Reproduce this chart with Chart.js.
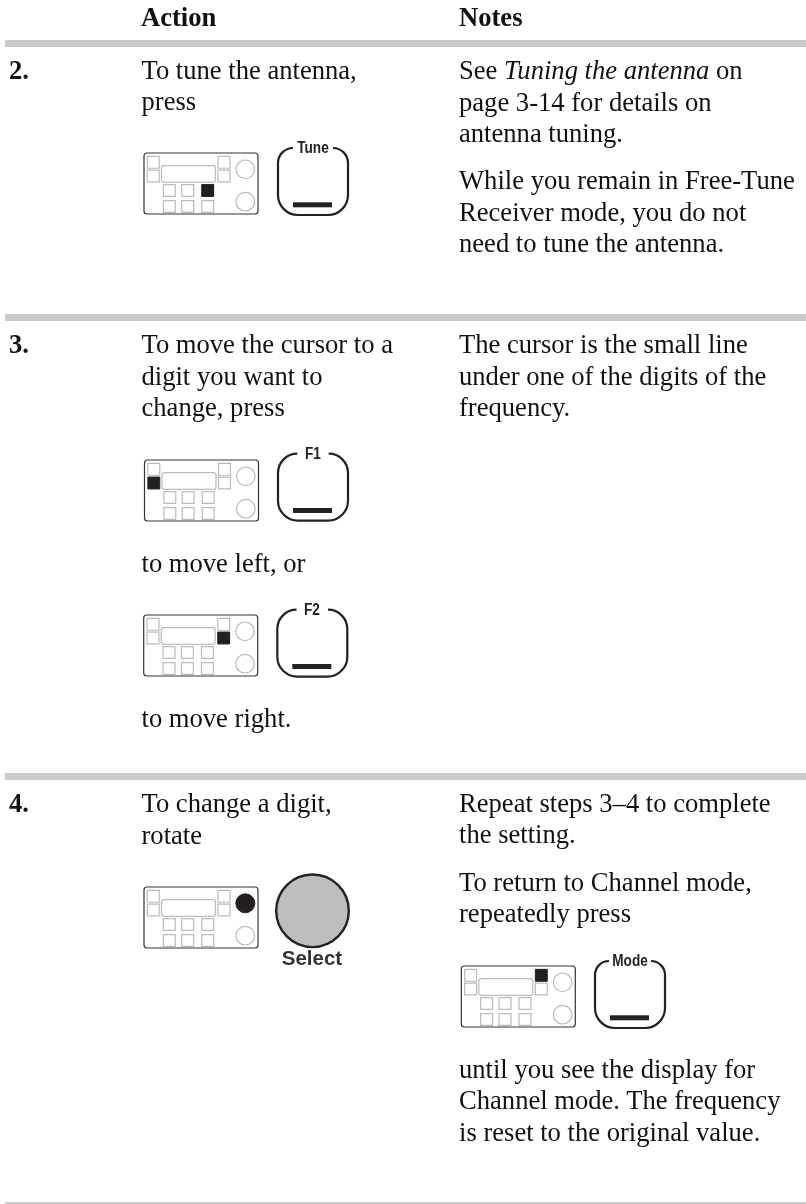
<!DOCTYPE html>
<html>
<head>
<meta charset="utf-8">
<script src="https://cdn.jsdelivr.net/npm/chart.js@4/dist/chart.umd.min.js"></script>
<style>
html, body { margin: 0; padding: 0; background: #fff; }
#page { position: relative; width: 806px; height: 1204px; overflow: hidden; }
#page canvas { position: absolute; left: 0; top: 0; }
.t { position: absolute; white-space: pre; font: 26.6px/32px "Liberation Serif", serif; color: #111; }
.b { font-weight: bold; }
.lbl { position: absolute; transform: translateX(-50%) scaleX(.85); white-space: pre; font: bold 16px/20px "Liberation Sans Narrow", "Liberation Sans", sans-serif; color: #222; }
.sel { position: absolute; transform: translateX(-50%); white-space: pre; font: bold 20.5px/22px "Liberation Sans", sans-serif; color: #333; }
</style>
</head>
<body>
<div id="page"><canvas id="chart" width="806" height="1204"></canvas></div>
<script>
// text lines: [text, left, baseline]
const headers = [["Action", 141], ["Notes", 459]];
const stepNumbers = [["2.", 9, 78.5], ["3.", 9, 353], ["4.", 9, 812]];
const actionLines = [
  ["To tune the antenna,", 78.5], ["press", 110],
  ["To move the cursor to a", 353], ["digit you want to", 385], ["change, press", 416],
  ["to move left, or", 572], ["to move right.", 727],
  ["To change a digit,", 812], ["rotate", 844]
];
const noteLines = [
  ["See <i>Tuning the antenna</i> on", 79], ["page 3-14 for details on", 110.7], ["antenna tuning.", 141.7],
  ["While you remain in Free-Tune", 189], ["Receiver mode, you do not", 220.7], ["need to tune the antenna.", 251.7],
  ["The cursor is the small line", 353], ["under one of the digits of the", 385], ["frequency.", 416],
  ["Repeat steps 3–4 to complete", 812], ["the setting.", 843.3],
  ["To return to Channel mode,", 890.7], ["repeatedly press", 922.3],
  ["until you see the display for", 1078], ["Channel mode. The frequency", 1109], ["is reset to the original value.", 1141]
];

// grey rules across the page
const ruleYs = [43.5, 317.5, 776.5, 1205.5];

// control panels: [x, y, which control is black]
const panels = [
  [144, 153, "b2"], [144.5, 460, "l1"], [143.7, 615, "r1"], [144, 887, "c0"], [461.3, 966, "r0"]
];
// soft keys next to the panels: [label, x, y, half gap in the outline]
const keys = [["Tune", 278, 148, 20], ["F1", 278, 453.7, 15.7], ["F2", 277.3, 609.7, 15.7], ["Mode", 595, 961, 21]];

const squareOffsets = {
  l0: [9.3, 9.3], l1: [9.3, 23], r0: [80, 9.3], r1: [80, 23],
  b0: [25.3, 37.5], b1: [43.7, 37.5], b2: [63.7, 37.5],
  b3: [25.3, 53.5], b4: [43.7, 53.5], b5: [63.7, 53.5]
};
const circleOffsets = { c0: [101.3, 16.3], c1: [101.3, 48.7] };

const knob = [312.5, 910.8];

function panelPoints(offsets, black) {
  const out = [];
  panels.forEach(p => {
    Object.keys(offsets).forEach(k => {
      if ((p[2] === k) === black) out.push({ x: p[0] + offsets[k][0], y: p[1] + offsets[k][1] });
    });
  });
  return out;
}

const rulesDatasets = ruleYs.map(y => ({
  type: "line", data: [{ x: 5, y }, { x: 806, y }], borderColor: "#cbcbcb", borderWidth: 7, pointRadius: 0
}));

// frames and soft keys need rounded outlines, drawn through the chart's scales
const framesPlugin = {
  id: "frames",
  afterDatasetsDraw(chart) {
    const { ctx, scales: { x, y } } = chart;
    const X = v => x.getPixelForValue(v), Y = v => y.getPixelForValue(v);
    ctx.save();
    panels.forEach(p => {
      ctx.strokeStyle = "#333"; ctx.lineWidth = 1.2;
      ctx.beginPath(); ctx.roundRect(X(p[0]), Y(p[1]), 114, 61, 3); ctx.stroke();
      ctx.strokeStyle = "#bbb"; ctx.lineWidth = 1.2;
      ctx.beginPath(); ctx.roundRect(X(p[0] + 17.5), Y(p[1] + 12.7), 54, 16.6, 2.5); ctx.stroke();
    });
    keys.forEach(k => {
      const l = X(k[1]), t = Y(k[2]), w = 70, h = 67, gap = k[3];
      const r = Math.min(20, w / 2 - gap);
      ctx.strokeStyle = "#222"; ctx.lineWidth = 2.2;
      ctx.beginPath();
      ctx.moveTo(l + w / 2 - gap, t);
      ctx.arcTo(l, t, l, t + h, r);
      ctx.arcTo(l, t + h, l + w, t + h, 20);
      ctx.arcTo(l + w, t + h, l + w, t, 20);
      ctx.arcTo(l + w, t, l, t, r);
      ctx.lineTo(l + w / 2 + gap, t);
      ctx.stroke();
      ctx.fillStyle = "#222";
      ctx.fillRect(l + 15, t + 54.3, 39, 5);
    });
    ctx.restore();
  }
};

new Chart(document.getElementById("chart"), {
  data: {
    datasets: [
      ...rulesDatasets,
      { type: "scatter", data: panelPoints(squareOffsets, false), pointStyle: "rect", pointRadius: 8.4, pointBackgroundColor: "#fff", pointBorderColor: "#bbb", pointBorderWidth: 1.2 },
      { type: "scatter", data: panelPoints(squareOffsets, true), pointStyle: "rect", pointRadius: 8.4, pointBackgroundColor: "#231f20", pointBorderColor: "#231f20", pointBorderWidth: 1 },
      { type: "scatter", data: panelPoints(circleOffsets, false), pointStyle: "circle", pointRadius: 9.3, pointBackgroundColor: "#fff", pointBorderColor: "#bbb", pointBorderWidth: 1.2 },
      { type: "scatter", data: panelPoints(circleOffsets, true), pointStyle: "circle", pointRadius: 9.5, pointBackgroundColor: "#231f20", pointBorderColor: "#231f20", pointBorderWidth: 1 },
      { type: "scatter", data: [{ x: knob[0], y: knob[1] }], pointStyle: "circle", pointRadius: 36.3, pointBackgroundColor: "#bdbec0", pointBorderColor: "#222", pointBorderWidth: 2.4 }
    ]
  },
  options: {
    responsive: false,
    animation: false,
    events: [],
    layout: { padding: 0, autoPadding: false },
    plugins: { legend: { display: false }, tooltip: { enabled: false } },
    scales: {
      x: { type: "linear", min: 0, max: 806, display: false },
      y: { type: "linear", min: 0, max: 1204, reverse: true, display: false }
    }
  },
  plugins: [framesPlugin]
});

// real text laid over the canvas
const page = document.getElementById("page");
function addText(cls, html, left, baseline) {
  const d = document.createElement("div");
  d.className = cls;
  d.innerHTML = html;
  d.style.left = left + "px";
  d.style.top = (baseline - 25) + "px";
  page.appendChild(d);
}
headers.forEach(h => addText("t b", h[0], h[1], 26));
stepNumbers.forEach(s => addText("t b", s[0], s[1], s[2]));
actionLines.forEach(l => addText("t", l[0], 141.5, l[1]));
noteLines.forEach(l => addText("t", l[0], 459, l[1]));
keys.forEach(k => {
  const d = document.createElement("div");
  d.className = "lbl";
  d.textContent = k[0];
  d.style.left = (k[1] + 35) + "px";
  d.style.top = (k[2] - 10) + "px";
  page.appendChild(d);
});
const s = document.createElement("div");
s.className = "sel";
s.textContent = "Select";
s.style.left = "312px";
s.style.top = "947px";
page.appendChild(s);
</script>
</body>
</html>
